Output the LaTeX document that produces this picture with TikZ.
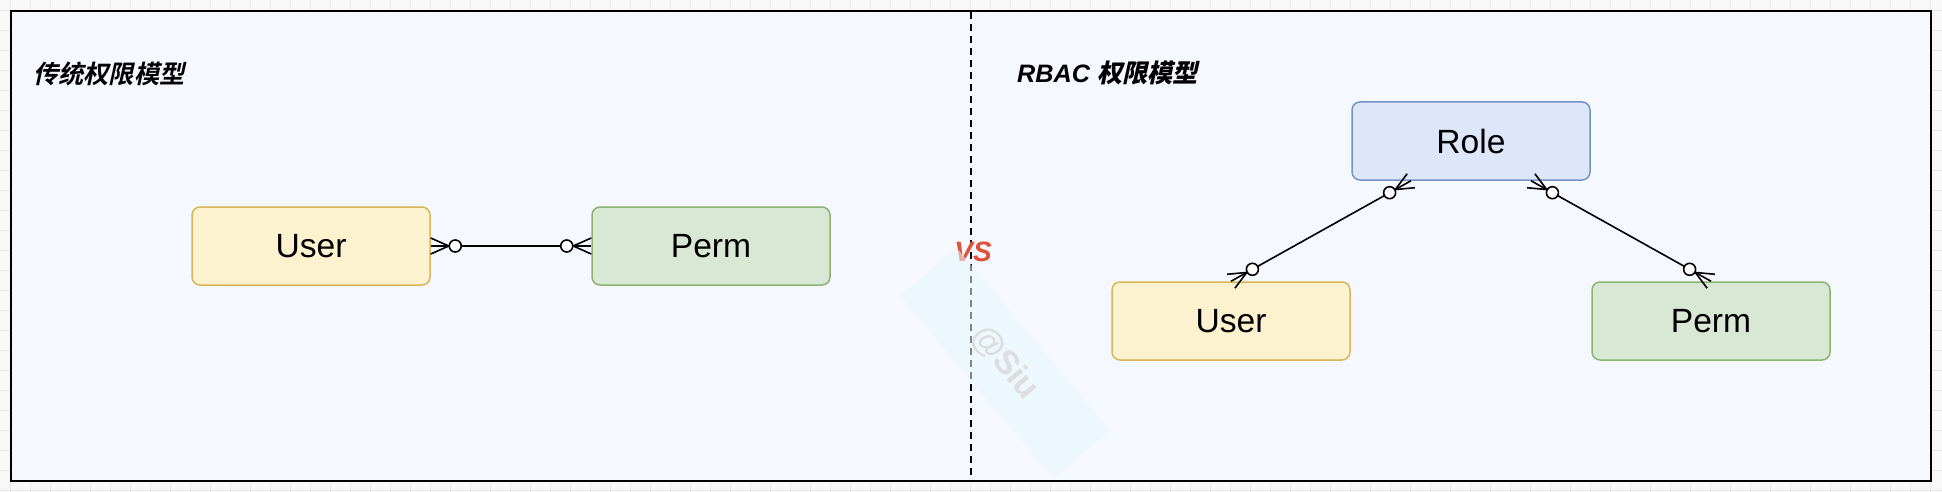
\documentclass[tikz,border=0pt]{standalone}
\usepackage{fontspec}
\setmainfont{Liberation Sans}
\newfontfamily\cjkbi{Noto Sans CJK SC Bold}[FakeSlant=0.22]
\usetikzlibrary{calc}
\definecolor{outerbg}{HTML}{F8F8F8}
\definecolor{gridc}{HTML}{E8E8E8}
\definecolor{innerbg}{HTML}{F5F9FF}
\definecolor{boxY}{HTML}{FDF2CF}
\definecolor{boxYd}{HTML}{D6B656}
\definecolor{boxG}{HTML}{D9E7D5}
\definecolor{boxGd}{HTML}{8DB46F}
\definecolor{boxB}{HTML}{DDE7F9}
\definecolor{boxBd}{HTML}{7593C5}
\definecolor{vsred}{HTML}{E2503A}
\definecolor{wmfill}{HTML}{E6F8FC}
\definecolor{wmtext}{HTML}{DDDDDD}
\tikzset{
  box/.style={draw, rounded corners=8pt, line width=1.5pt, minimum width=238pt,
    minimum height=78pt, inner sep=0pt, font=\fontsize{33.6}{40}\selectfont},
  ybox/.style={box, fill=boxY, draw=boxYd},
  gbox/.style={box, fill=boxG, draw=boxGd},
  bbox/.style={box, fill=boxB, draw=boxBd},
  erline/.style={line width=1.6pt, black},
  title/.style={anchor=west, inner sep=0pt, font=\fontsize{25.2}{30}\selectfont},
  divider/.style={line width=2pt, black, dash pattern=on 7pt off 5pt},
  frame/.style={line width=2pt, black, fill=innerbg},
  gridline/.style={gridc, line width=0.8pt},
  wmark/.style={fill=wmfill, fill opacity=0.55, text opacity=1, text=wmtext,
    minimum width=238pt, minimum height=74pt, inner sep=0pt,
    font=\fontsize{33.6}{40}\selectfont\bfseries},
}
\newcommand{\erfoot}[2]{%
  \draw[erline] ($(#1)!8pt!90:(#2)$) -- ($(#1)!18pt!(#2)$) -- ($(#1)!8pt!-90:(#2)$);
  \draw[erline, fill=white] ($(#1)!24.5pt!(#2)$) circle[radius=6pt];
}
\begin{document}
\begin{tikzpicture}[x=1pt,y=-1pt]
\useasboundingbox (0,0) rectangle (1942,492);
\fill[outerbg] (0,0) rectangle (1942,492);
\foreach \gx in {10,30,...,1930} \draw[gridline] (\gx,0) -- (\gx,492);
\foreach \gy in {10,30,...,490} \draw[gridline] (0,\gy) -- (1942,\gy);
\draw[frame] (11,11) rectangle (1931,481);

% divider
\coordinate (divtop) at (971,12);
\coordinate (divbot) at (971,480);
\draw[divider] (divtop) -- (divbot);

% titles
\node[title] (t1) at (33,74) {\cjkbi 传统权限模型};
\node[title] (t2) at (1017,73) {\bfseries\itshape RBAC {\cjkbi 权限模型}};

% left model
\node[ybox] (u1) at (311,246) {User};
\node[gbox] (p1) at (711,246) {Perm};
\draw[erline] (u1.east) -- (p1.west);
\erfoot{u1.east}{p1.west}
\erfoot{p1.west}{u1.east}

% right model
\node[bbox] (role) at (1471,141) {Role};
\node[ybox] (u2) at (1231,321) {User};
\node[gbox] (p2) at (1711,321) {Perm};
\coordinate (rl) at ($(role.south)+(-60,0)$);
\coordinate (rr) at ($(role.south)+(60,0)$);
\draw[erline] (u2.north) -- (rl);
\erfoot{u2.north}{rl}
\erfoot{rl}{u2.north}
\draw[erline] (p2.north) -- (rr);
\erfoot{p2.north}{rr}
\erfoot{rr}{p2.north}

% VS
\node[font=\fontsize{28}{32}\selectfont\bfseries\itshape, text=vsred, inner sep=0pt] (vs) at (973,252) {VS};

% watermark
\node[wmark, rotate=-50] (wm) at (1005,363) {@Siu};
\end{tikzpicture}
\end{document}
